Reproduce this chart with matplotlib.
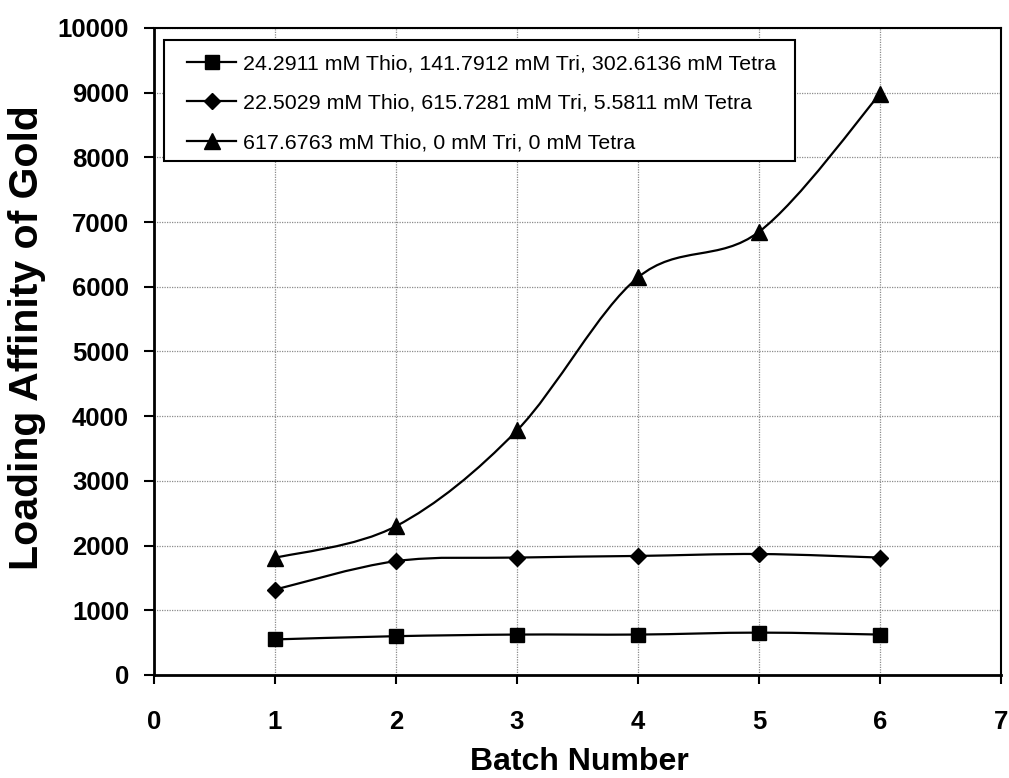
import matplotlib
matplotlib.use("Agg")
import matplotlib.pyplot as plt
from matplotlib.path import Path
from matplotlib.patches import PathPatch, Rectangle
from matplotlib.lines import Line2D
import numpy as np

plt.rcParams['font.family'] = ['Liberation Sans', 'DejaVu Sans']

batches = [1, 2, 3, 4, 5, 6]
series_labels = [
    "24.2911 mM Thio, 141.7912 mM Tri, 302.6136 mM Tetra",
    "22.5029 mM Thio, 615.7281 mM Tri, 5.5811 mM Tetra",
    "617.6763 mM Thio, 0 mM Tri, 0 mM Tetra",
]
square_values = [550, 600, 625, 625, 655, 625]
diamond_values = [1320, 1760, 1815, 1840, 1870, 1815]
triangle_values = [1810, 2300, 3780, 6145, 6850, 8980]
x_ticks = [0, 1, 2, 3, 4, 5, 6, 7]
y_ticks = [0, 1000, 2000, 3000, 4000, 5000, 6000, 7000, 8000, 9000, 10000]


def smooth_path(xs, ys):
    """Cubic Bezier path through the points with Catmull-Rom style tangents."""
    pts = np.column_stack([xs, ys]).astype(float)
    n = len(pts)
    verts = [pts[0]]
    codes = [Path.MOVETO]
    for i in range(n - 1):
        p0 = pts[i - 1] if i > 0 else pts[i]
        p1 = pts[i]
        p2 = pts[i + 1]
        p3 = pts[i + 2] if i + 2 < n else pts[i + 1]
        c1 = p1 + (p2 - p0) / 6.0
        c2 = p2 - (p3 - p1) / 6.0
        verts += [c1, c2, p2]
        codes += [Path.CURVE4, Path.CURVE4, Path.CURVE4]
    return Path(verts, codes)


W, H = 1009, 778
L, R, T, B = 154, 1001, 28, 675
fig = plt.figure(figsize=(W / 100, H / 100), dpi=100)
ax = fig.add_axes([L / W, 1 - B / H, (R - L) / W, (B - T) / H])


def ax_x(px):
    return (px - L) / (R - L)


def ax_y(py):
    return (B - py) / (B - T)


ax.set_xlim(0, 7)
ax.set_ylim(0, 10000)
ax.set_xticks(x_ticks)
ax.set_yticks(y_ticks)
ax.grid(True, color='#8c8c8c', linestyle=(0, (1, 1)), linewidth=0.9)
ax.set_axisbelow(True)

styles = [
    (square_values, 's', 9.5),
    (diamond_values, 'D', 8.0),
    (triangle_values, '^', 11.0),
]
handles = []
for (vals, mk, ms), lab in zip(styles, series_labels):
    patch = PathPatch(smooth_path(batches, vals), facecolor='none',
                      edgecolor='black', linewidth=1.6, zorder=3)
    ax.add_patch(patch)
    ax.plot(batches, vals, linestyle='none', marker=mk, markersize=ms,
            color='black', zorder=4, clip_on=False)
    handles.append(Line2D([], [], color='black', linewidth=1.6, marker=mk,
                          markersize=ms, label=lab))

for side in ['left', 'bottom']:
    ax.spines[side].set_linewidth(2.0)
for side in ['top', 'right']:
    ax.spines[side].set_linewidth(1.5)

ax.tick_params(axis='both', direction='out', width=1.5, labelsize=18.5)
ax.tick_params(axis='y', length=7, pad=11)
ax.tick_params(axis='x', length=6.5, pad=19)
for lbl in ax.get_xticklabels() + ax.get_yticklabels():
    lbl.set_fontweight('bold')

ax.set_xlabel("Batch Number", fontsize=23, fontweight='bold')
ax.xaxis.set_label_coords(ax_x(579), ax_y(770))
ax.xaxis.label.set_va('baseline')
ax.set_ylabel("Loading Affinity of Gold", fontsize=29.5, fontweight='bold')
ax.yaxis.set_label_coords(ax_x(27), ax_y(338))
ax.yaxis.label.set_va('center')

# legend box
frame = Rectangle((ax_x(164), ax_y(161)), ax_x(795) - ax_x(164),
                  ax_y(40) - ax_y(161), transform=ax.transAxes,
                  facecolor='white', edgecolor='black', linewidth=1.5,
                  zorder=5)
ax.add_patch(frame)
leg = ax.legend(handles=handles, loc='upper left',
                bbox_to_anchor=(ax_x(187), ax_y(54)),
                fontsize=15.4, frameon=False, handlelength=2.3,
                handletextpad=0.3, labelspacing=0.98, borderpad=0,
                borderaxespad=0)
leg.set_zorder(6)

fig.savefig("out.png", dpi=100)
